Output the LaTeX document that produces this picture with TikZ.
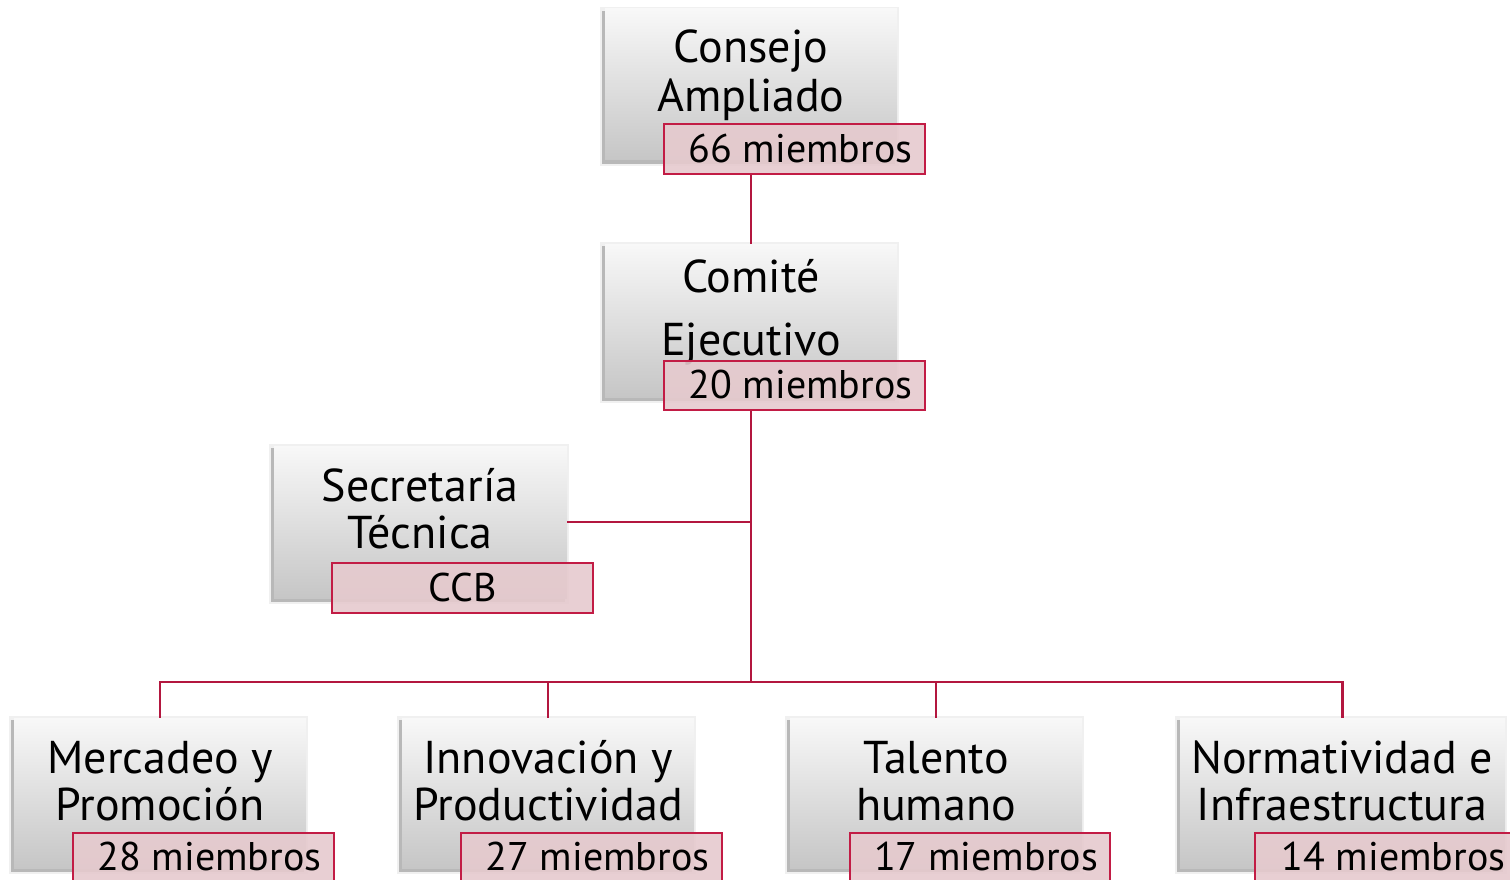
\documentclass[tikz,border=0pt]{standalone}
\usepackage{fontspec}
\setmainfont{PT Sans}
\usetikzlibrary{calc}
\definecolor{linec}{HTML}{B3173F}
\definecolor{pinkf}{HTML}{E6CACE}
\definecolor{pinkd}{HTML}{C21C45}
\definecolor{gtop}{HTML}{F8F8F8}
\definecolor{gbot}{HTML}{C6C6C6}
\tikzset{
  conn/.style={draw=linec, line width=2.6pt},
  graybox/.style={rectangle, inner sep=0pt, top color=gtop, bottom color=gbot, draw=none},
  pinkbox/.style={rectangle, inner sep=0pt, fill=pinkf, fill opacity=0.9, draw=pinkd, line width=1.3pt, text opacity=1},
  lbl/.style={anchor=base, inner sep=0pt, font=\fontsize{46}{50}\selectfont},
  plbl/.style={anchor=base, inner sep=0pt, font=\fontsize{40}{44}\selectfont},
}
\newcommand{\grayrect}[5]{% name, x1,y1,x2,y2
  \fill[black!6] (#2-5,#3-2) rectangle (#4+2,#5+6);
  \fill[black!28] (#2-3,#3+2) rectangle (#4-2,#5+4);
  \node[graybox, minimum width={#4-#2}, minimum height={#5-#3}] (#1) at ({(#2+#4)/2},{(#3+#5)/2}) {};
}
\newcommand{\pinkrect}[8]{% name, x1,y1,x2,y2, text, baseline, xshift
  \node[pinkbox, minimum width={#4-#2}, minimum height={#5-#3}] (#1) at ({(#2+#4)/2},{(#3+#5)/2}) {};
  \node[plbl] (#1t) at ({(#2+#4)/2+#8},#7) {#6};
}
\begin{document}
\begin{tikzpicture}[x=1pt,y=-1pt]
\useasboundingbox (0,0) rectangle (1510,880);
% boxes
\grayrect{c1}{605}{9}{897}{160}
\grayrect{c2}{605}{244}{897}{397}
\grayrect{st}{274}{446}{567}{598}
\grayrect{m1}{14}{718}{306}{868}
\grayrect{m2}{402}{718}{694}{868}
\grayrect{m3}{790}{718}{1082}{868}
\grayrect{m4}{1180}{718}{1505}{868}
% texts in gray boxes
\node[lbl] (c1a) at (751,63) {Consejo};
\node[lbl] (c1b) at (751,112) {Ampliado};
\node[lbl] (c2a) at (751,292) {Comité};
\node[lbl] (c2b) at (751,355) {Ejecutivo};
\node[lbl] (sta) at (420,501) {Secretaría};
\node[lbl] (stb) at (420,548) {Técnica};
\node[lbl] (m1a) at (160,773) {Mercadeo y};
\node[lbl] (m1b) at (160,820) {Promoción};
\node[lbl] (m2a) at (548,773) {Innovación y};
\node[lbl] (m2b) at (548,820) {Productividad};
\node[lbl] (m3a) at (936,773) {Talento};
\node[lbl] (m3b) at (936,820) {humano};
\node[lbl] (m4a) at (1342,773) {Normatividad e};
\node[lbl] (m4b) at (1342,820) {Infraestructura};
% connectors
\coordinate (bus) at (751,682);
\draw[conn] (c1.center |- 0,174) -- (c2.north);
\draw[conn] (c2.center |- 0,410) -- (bus);
\draw[conn] (st.east) -- (st.east -| bus);
\draw[conn] (m1.north) -- (m1.north |- bus) -- (m4.north |- bus) -- (m4.north);
\draw[conn] (m2.north) -- (m2.north |- bus);
\draw[conn] (m3.north) -- (m3.north |- bus);
% pink labels
\pinkrect{c1p}{664}{124}{925}{174}{66 miembros}{162}{6}
\pinkrect{c2p}{664}{361}{925}{410}{20 miembros}{398}{6}
\pinkrect{stp}{332}{563}{593}{613}{CCB}{601}{0}
\pinkrect{m1p}{73}{833}{334}{892}{28 miembros}{870}{6}
\pinkrect{m2p}{461}{833}{722}{892}{27 miembros}{870}{6}
\pinkrect{m3p}{850}{833}{1110}{892}{17 miembros}{870}{6}
\pinkrect{m4p}{1255}{833}{1520}{892}{14 miembros}{870}{6}
\end{tikzpicture}
\end{document}
